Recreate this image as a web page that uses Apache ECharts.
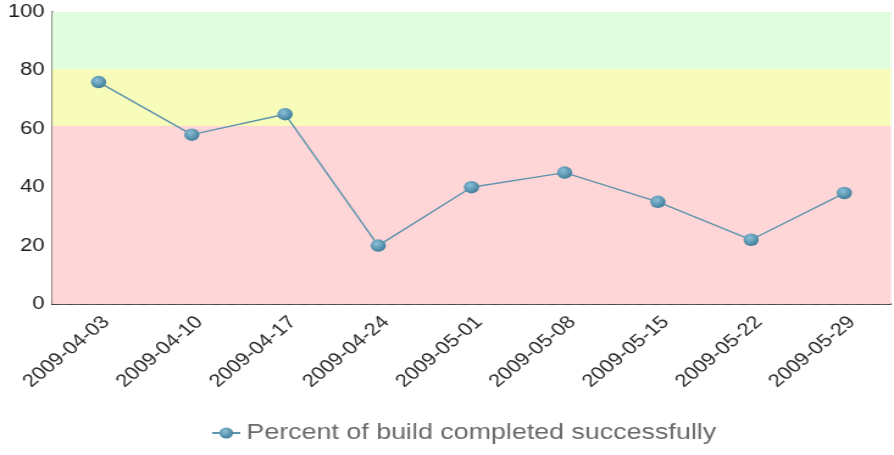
<!DOCTYPE html>
<html>
<head>
<meta charset="utf-8">
<script src="https://cdn.jsdelivr.net/npm/echarts@6/dist/echarts.min.js"></script>
<style>
  html, body { margin: 0; padding: 0; background: #fff; overflow: hidden; }
  /* the original picture is stretched sideways, so draw narrower and stretch */
  #main { width: 733px; height: 455px; transform: scaleX(1.2196); transform-origin: 0 0; }
</style>
</head>
<body>
<div id="main"></div>
<script>
// build dates and success percentages
const dates = ['2009-04-03', '2009-04-10', '2009-04-17', '2009-04-24', '2009-05-01',
               '2009-05-08', '2009-05-15', '2009-05-22', '2009-05-29'];
const percents = [76, 58, 65, 20, 40, 45, 35, 22, 38];
const yTicks = [0, 20, 40, 60, 80, 100];
// coloured bands: [from, to]
const bandRed = [0, 61];
const bandYellow = [61, 80.5];
const bandGreen = [80.5, 100];

const dotColor = new echarts.graphic.RadialGradient(0.4, 0.35, 0.7, [
    { offset: 0, color: '#8cc0d8' },
    { offset: 1, color: '#3a7896' }
]);
const font = 'Liberation Sans, Arial, sans-serif';

const chart = echarts.init(document.getElementById('main'));
chart.setOption({
    animation: false,
    grid: { left: 42.6, right: 2.5, top: 12, bottom: 151 },
    xAxis: {
        type: 'category',
        data: dates,
        boundaryGap: true,
        axisLine: { lineStyle: { color: '#222', width: 1.6 } },
        axisTick: { show: false },
        axisLabel: { rotate: 45, color: '#2a2a2a', fontSize: 18, fontFamily: font, margin: 9, verticalAlign: 'top' }
    },
    yAxis: {
        type: 'value',
        min: yTicks[0], max: yTicks[yTicks.length - 1], interval: 20,
        axisLine: { show: true, lineStyle: { color: '#222', width: 1.6 } },
        axisTick: { show: false },
        axisLabel: { color: '#1a1a1a', fontSize: 18, fontFamily: font, margin: 6 },
        splitLine: { show: true, lineStyle: { color: '#c4c4c4', type: [6, 6] } }
    },
    legend: {
        bottom: 6, left: 168,
        itemWidth: 23, itemHeight: 14, itemGap: 6,
        textStyle: { color: '#6a6a6a', fontSize: 22, fontFamily: font, padding: [0, 0, 0, 0] },
        data: ['Percent of build completed successfully']
    },
    series: [{
        name: 'Percent of build completed successfully',
        type: 'line',
        data: percents,
        symbol: 'circle',
        symbolSize: 12.5,
        z: 5,
        lineStyle: { color: '#5e94ad', width: 1.4 },
        itemStyle: { color: dotColor, borderWidth: 0 },
        markArea: {
            silent: true,
            z: 1,
            data: [
                [{ yAxis: bandRed[0], itemStyle: { color: '#ffd6d7' } }, { yAxis: bandRed[1] }],
                [{ yAxis: bandYellow[0], itemStyle: { color: '#f8fcbb' } }, { yAxis: bandYellow[1] }],
                [{ yAxis: bandGreen[0], itemStyle: { color: '#e0fde0' } }, { yAxis: bandGreen[1] }]
            ]
        }
    }]
});
</script>
</body>
</html>
